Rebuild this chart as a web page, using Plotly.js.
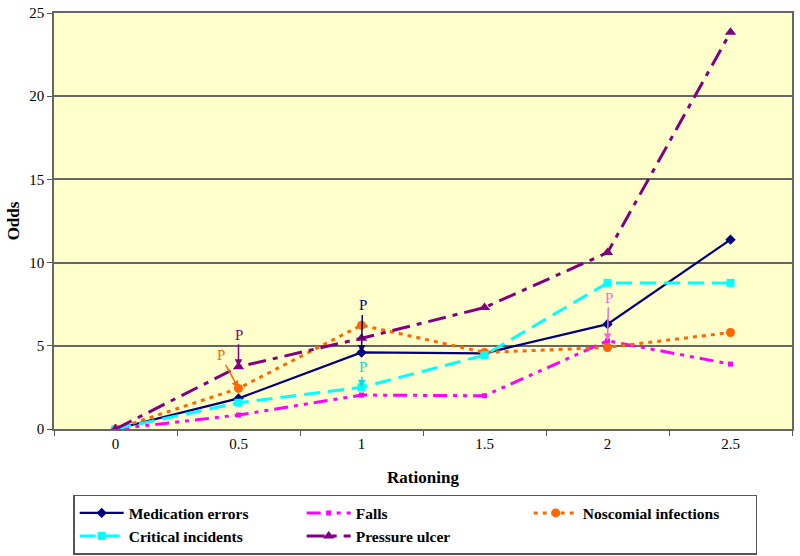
<!DOCTYPE html>
<html>
<head>
<meta charset="utf-8">
<script src="https://cdn.plot.ly/plotly-3.0.1.min.js"></script>
<style>
  body { margin: 0; background: #fff; }
  #plot { width: 800px; height: 556px; }
</style>
</head>
<body>
<div id="plot"></div>
<script>
// values
var rationing = ['0', '0.5', '1', '1.5', '2', '2.5'];
var medication = [0, 1.84, 4.6, 4.55, 6.3, 11.38];
var falls = [0, 0.84, 2.04, 2.0, 5.3, 3.9];
var noscomial = [0, 2.44, 6.24, 4.6, 4.9, 5.8];
var critical = [0, 1.58, 2.5, 4.44, 8.78, 8.78];
var ulcer = [0, 3.74, 5.45, 7.3, 10.6, 23.84];

var serif = '"Times New Roman", "Liberation Serif", serif';

var trace1 = {
    x: rationing, y: medication, name: 'Medication errors', type: 'scatter', mode: 'lines+markers',
    line: {color: '#000080', width: 2.2},
    marker: {symbol: 'diamond', size: 8, color: '#000080'}
};
var trace2 = {
    x: rationing, y: falls, name: 'Falls', type: 'scatter', mode: 'lines+markers',
    line: {color: '#FF00FF', width: 3, dash: '14px,6px,4px,6px,4px,6px'},
    marker: {symbol: 'square', size: 5, color: '#FF00FF'}
};
var trace3 = {
    x: rationing, y: noscomial, name: 'Noscomial infections', type: 'scatter', mode: 'lines+markers',
    line: {color: '#FF6600', width: 3, dash: '4px,5px'},
    marker: {symbol: 'circle', size: 9, color: '#FF6600'}
};
var trace4 = {
    x: rationing, y: critical, name: 'Critical incidents', type: 'scatter', mode: 'lines+markers',
    line: {color: '#00FFFF', width: 3, dash: '16px,8px'},
    marker: {symbol: 'square', size: 8, color: '#00FFFF'}
};
var trace5 = {
    x: rationing, y: ulcer, name: 'Pressure ulcer', type: 'scatter', mode: 'lines+markers',
    line: {color: '#800080', width: 3, dash: '18px,7px,5px,7px'},
    marker: {symbol: 'triangle-up', size: 10, color: '#800080'}
};
var data = [trace1, trace2, trace3, trace4, trace5];

// x is the category index (category names look numeric, so give the index)
function pNote(x, y, ax, ay, color) {
    return {
        x: x, y: y, xref: 'x', yref: 'y', text: 'P', showarrow: true,
        ax: ax, ay: ay, arrowcolor: color, arrowwidth: 1.5, arrowhead: 2, arrowsize: 1,
        font: {family: serif, size: 15, color: color}
    };
}

var layout = {
    width: 800, height: 556,
    margin: {l: 54, r: 8, t: 13, b: 127},
    paper_bgcolor: '#ffffff',
    plot_bgcolor: '#FFFFCC',
    showlegend: true,
    font: {family: serif, color: '#000'},
    xaxis: {
        type: 'category', range: [-0.5, 5.5], automargin: false,
        title: {text: '<b>Rationing</b>', font: {family: serif, size: 17}, standoff: 20},
        tickfont: {family: serif, size: 15},
        ticks: 'outside', tickson: 'boundaries', ticklen: 5, tickcolor: '#555',
        showline: true, mirror: true, linecolor: '#666', linewidth: 1.5,
        showgrid: false, zeroline: false
    },
    yaxis: {
        range: [0, 25], dtick: 5, automargin: false,
        title: {text: '<b>Odds</b>', font: {family: serif, size: 17}, standoff: 5},
        tickfont: {family: serif, size: 15},
        ticks: 'outside', ticklen: 5, tickcolor: '#555',
        showline: true, mirror: true, linecolor: '#666', linewidth: 1.5,
        showgrid: true, gridcolor: '#666', gridwidth: 1.5, zeroline: false
    },
    legend: {
        orientation: 'h', x: 0.026, xanchor: 'left',
        yref: 'container', y: 0.11, yanchor: 'top',
        bgcolor: '#ffffff', bordercolor: '#555', borderwidth: 1.5,
        font: {family: serif, size: 15.5, weight: 'bold'},
        itemwidth: 44, entrywidth: 168, entrywidthmode: 'pixels',
        traceorder: 'normal', tracegroupgap: 0
    },
    annotations: [
        pNote(1, 3.74, 0, -32, '#800080'),
        pNote(1, 2.44, -18, -33, '#FF6600'),
        pNote(2, 4.6, 1, -47, '#000080'),
        pNote(2, 2.5, 1, -20, '#00DDDD'),
        pNote(4, 5.3, 1, -43, '#FF66CC')
    ]
};

Plotly.newPlot('plot', data, layout, {displayModeBar: false});
</script>
</body>
</html>
